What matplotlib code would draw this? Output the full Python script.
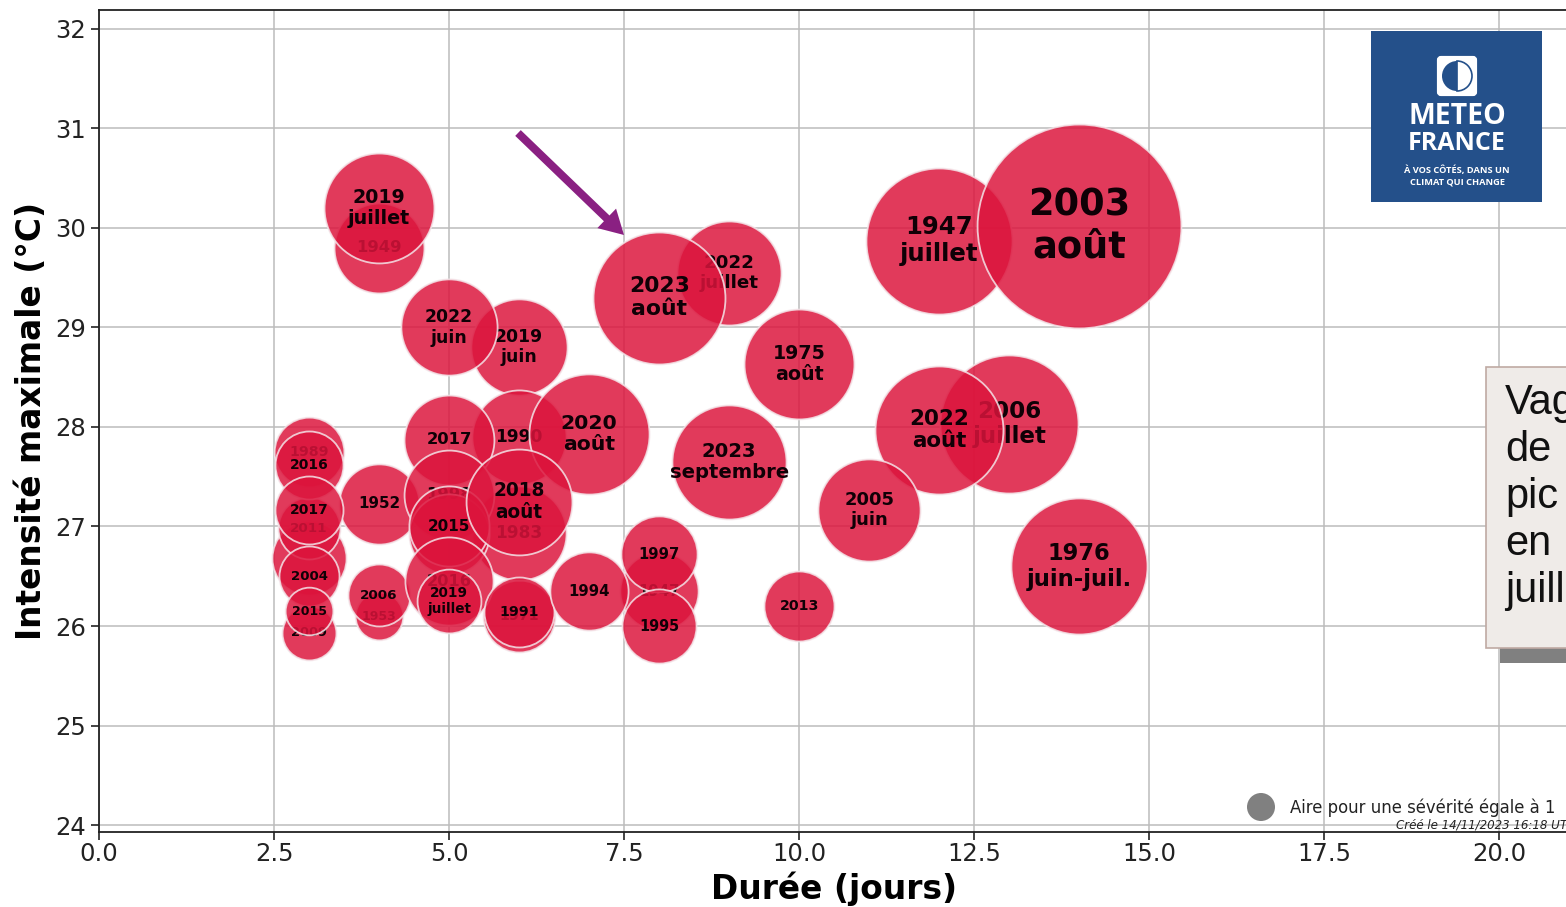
import numpy as np
import matplotlib
matplotlib.use('Agg')
import matplotlib.pyplot as plt
from matplotlib.patches import Rectangle, Circle, FancyArrow, Wedge, FancyBboxPatch

# Values (bottom to top drawing order)
labels = ['1952', '1953', '2006', '1971', '2009', '', '2011', '1989', '1949', '2019\njuin',
          '2022\njuin', '2022\njuillet', '1983', '1990', '2017', '1998', '', '2015',
          '2020\naoût', '2018\naoût', '2016', '2019\njuillet', '1991', '2004', '2015', '2016',
          '2017', '2019\njuillet', '2023\naoût', '1947\njuillet', '2003\naoût',
          '2006\njuillet', '2022\naoût', '1976\njuin-juil.', '2005\njuin', '1975\naoût',
          '2013', '2023\nseptembre', '1947', '1994', '1997', '1995']
durees = [4, 4, 4, 6, 3, 3, 3, 3, 4, 6,
          5, 9, 6, 6, 5, 5, 5, 5,
          7, 6, 5, 5, 6, 3, 3, 3,
          3, 4, 8, 12, 14,
          13, 12, 14, 11, 10,
          10, 9, 8, 7, 8, 8]
intensites = [27.23, 26.1, 26.31, 26.1, 25.93, 26.68, 26.98, 27.75, 29.8, 28.8,
              29.0, 29.55, 26.93, 27.9, 27.87, 27.32, 26.92, 27.0,
              27.93, 27.25, 26.45, 26.25, 26.14, 26.5, 26.15, 27.62,
              27.17, 30.2, 29.3, 29.87, 30.02,
              28.03, 27.97, 26.6, 27.17, 28.63,
              26.2, 27.65, 26.35, 26.35, 26.72, 26.0]
severites = [8.2, 2.9, 4.9, 6.6, 3.7, 7.0, 4.9, 6.2, 10.3, 11.8,
             11.8, 13.8, 11.3, 11.3, 10.3, 10.3, 8.2, 8.2,
             18.4, 14.3, 9.9, 5.2, 6.25, 4.6, 2.9, 5.9,
             5.9, 15.4, 22.2, 27.2, 53.0,
             24.3, 20.9, 23.6, 13.3, 15.4,
             6.25, 16.6, 7.8, 7.8, 7.4, 7.0]
xticks = [0, 2.5, 5, 7.5, 10, 12.5, 15, 17.5, 20]
yticks = [24, 25, 26, 27, 28, 29, 30, 31, 32]

W, H = 1566, 907
fig = plt.figure(figsize=(W / 100, H / 100), dpi=100)
ax = fig.add_axes([99 / W, 1 - 832 / H, (1569.5 - 99) / W, (832 - 10) / H])
ax.set_xlim(0, 21)
ax.set_ylim(23.93, 32.19)
ax.set_xticks(xticks)
ax.set_yticks(yticks)
ax.set_xticklabels(['0.0', '2.5', '5.0', '7.5', '10.0', '12.5', '15.0', '17.5', '20.0'])
ax.tick_params(labelsize=17.5, length=6, width=1.2, colors='#222222')
ax.tick_params(axis='x', pad=1.5)
ax.grid(True, color='#bcbcbc', lw=1.1, zorder=0)
ax.set_axisbelow(True)
for s in ax.spines.values():
    s.set_linewidth(1.3)
    s.set_color('#222222')
ax.set_xlabel('Durée (jours)', fontsize=23.7, fontweight='bold', labelpad=4)
ax.set_ylabel('Intensité maximale (°C)', fontsize=23.7, fontweight='bold', labelpad=5)

PX_SEV1 = 14
for i, (lab, d, t, sev) in enumerate(zip(labels, durees, intensites, severites)):
    r = PX_SEV1 * np.sqrt(sev)
    z = 3 + i * 0.01
    ax.scatter([d], [t], s=(2 * r * 0.72) ** 2, color='#DC143C', alpha=0.84,
               edgecolors='#f4e6ea', linewidths=1.3, zorder=z)
    fs = np.interp(r, [24, 34, 40, 66, 73, 102], [9, 10, 10.9, 15.8, 17.6, 26.5])
    if lab:
        ax.text(d, t, lab, fontsize=fs, fontweight='bold', ha='center', va='center',
                color='#100006', linespacing=1.15, zorder=z + 0.001)

# overlay in pixel coordinates
ov = fig.add_axes([0, 0, 1, 1], zorder=20)
ov.set_xlim(0, W)
ov.set_ylim(H, 0)
ov.axis('off')
ov.patch.set_alpha(0)

ov.add_patch(FancyArrow(518, 133, 106, 102, width=8, head_width=27, head_length=24,
                        length_includes_head=True, color='#8a2082', lw=0))

# logo
ov.add_patch(Rectangle((1371, 31), 171, 171, fc='#24508a', ec='none'))
ov.add_patch(FancyBboxPatch((1439, 58), 36, 36, boxstyle='round,pad=0,rounding_size=2', fc='white', ec='white', lw=3))
ov.add_patch(Wedge((1457, 76), 15, 90, 270, fc='#24508a', ec='none'))
ov.add_patch(Wedge((1457, 76), 15, 270, 90, fc='none', ec='#24508a', lw=1.2))
ov.text(1457, 117, 'METEO', color='white', fontsize=20.5, fontweight='bold', family='Open Sans', ha='center', va='center')
ov.text(1457, 143, 'FRANCE', color='white', fontsize=18, fontweight='bold', family='Open Sans', ha='center', va='center')
ov.text(1457, 170, 'À VOS CÔTÉS, DANS UN', color='white', fontsize=6.7, fontweight='bold', family='Open Sans', ha='center', va='center')
ov.text(1457, 182, 'CLIMAT QUI CHANGE', color='white', fontsize=6.7, fontweight='bold', family='Open Sans', ha='center', va='center')

# text box
ov.add_patch(Rectangle((1500, 648), 80, 15, fc='#808080', ec='none'))
ov.add_patch(Rectangle((1486, 367), 100, 281, fc='#efebe8', ec='#bfaaa3', lw=1.2))
ov.text(1505, 383, 'Vague\nde\npic\nen\njuillet', family='Liberation Sans', fontsize=30,
        color='#111111', ha='left', va='top', linespacing=1.225)

# size key and credit
ov.add_patch(Circle((1261, 807), 14, fc='#808080', ec='none'))
ov.text(1290, 808, 'Aire pour une sévérité égale à 1', fontsize=11.9, color='#222222', ha='left', va='center')
ov.text(1396, 825, 'Créé le 14/11/2023 16:18 UTC', fontsize=8.6, style='italic', color='#222222', ha='left', va='center')

fig.savefig('out.png', dpi=100)
